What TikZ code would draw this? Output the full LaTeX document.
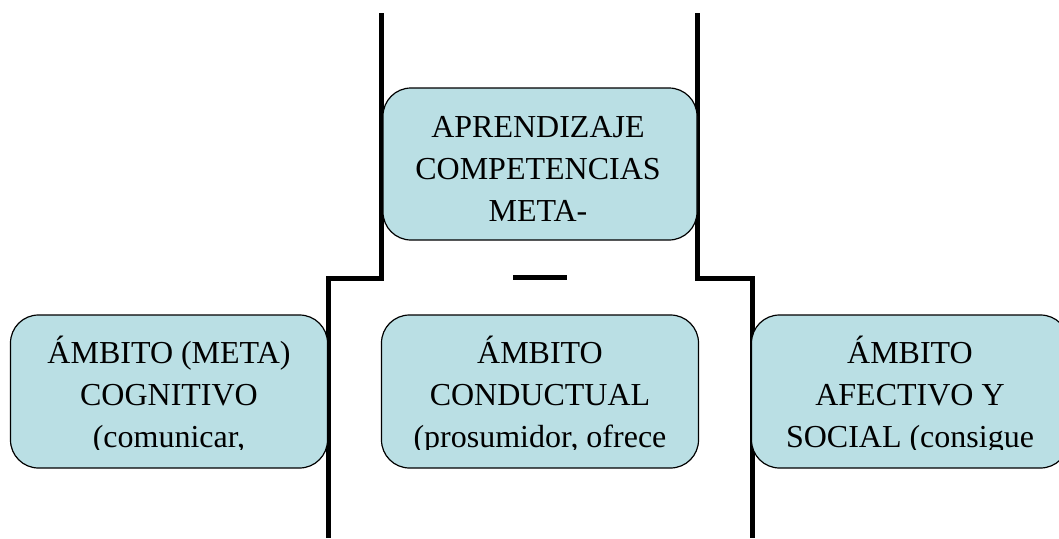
\documentclass[tikz,border=0pt]{standalone}
\usepackage{fontspec}
\setmainfont{Liberation Serif}
\usepackage{tikz}

\definecolor{ambito}{RGB}{186,223,228}

\begin{document}
\begin{tikzpicture}[x=1pt,y=-1pt,
    caja/.style={draw=black,line width=1.2pt,fill=ambito,rounded corners=28pt,minimum width=317pt,minimum height=153pt,inner sep=0pt},
    texto/.style={align=center,inner sep=0pt,anchor=north,font=\fontsize{32}{42}\selectfont},
    barra/.style={draw=black,line width=5pt}]
    \useasboundingbox (0,0) rectangle (1059,538);
    \coordinate (lt) at (381,13);
    \coordinate (lk) at (381,278);
    \coordinate (lb) at (328,538);
    \coordinate (rt) at (697,13);
    \coordinate (rk) at (697,278);
    \coordinate (rb) at (752,538);
    \coordinate (ml) at (513,277);
    \coordinate (mr) at (567,277);
    \draw[barra] (lt) -- (lk) -| (lb);
    \draw[barra] (rt) -- (rk) -| (rb);
    \draw[barra] (ml) -- (mr);

    \node[caja,minimum width=314pt,minimum height=152pt] (apr) at (540,164) {};
    \node[caja] (cog) at (169,391.5) {};
    \node[caja] (con) at (540,391.5) {};
    \node[caja] (afe) at (910,391.5) {};

    \node[texto] (aprt) at (538,107) {\rule{0pt}{30pt}APRENDIZAJE\\COMPETENCIAS\\META-};
    \begin{scope}
      \clip (0,300) rectangle (1059,449);
      \node[texto] (cogt) at (169,333) {\rule{0pt}{30pt}ÁMBITO (META)\\COGNITIVO\\(comunicar,};
      \node[texto] (cont) at (540,333) {\rule{0pt}{30pt}ÁMBITO\\CONDUCTUAL\\(prosumidor, ofrece};
      \node[texto] (afet) at (910,333) {\rule{0pt}{30pt}ÁMBITO\\AFECTIVO Y\\SOCIAL (consigue};
    \end{scope}
\end{tikzpicture}
\end{document}
